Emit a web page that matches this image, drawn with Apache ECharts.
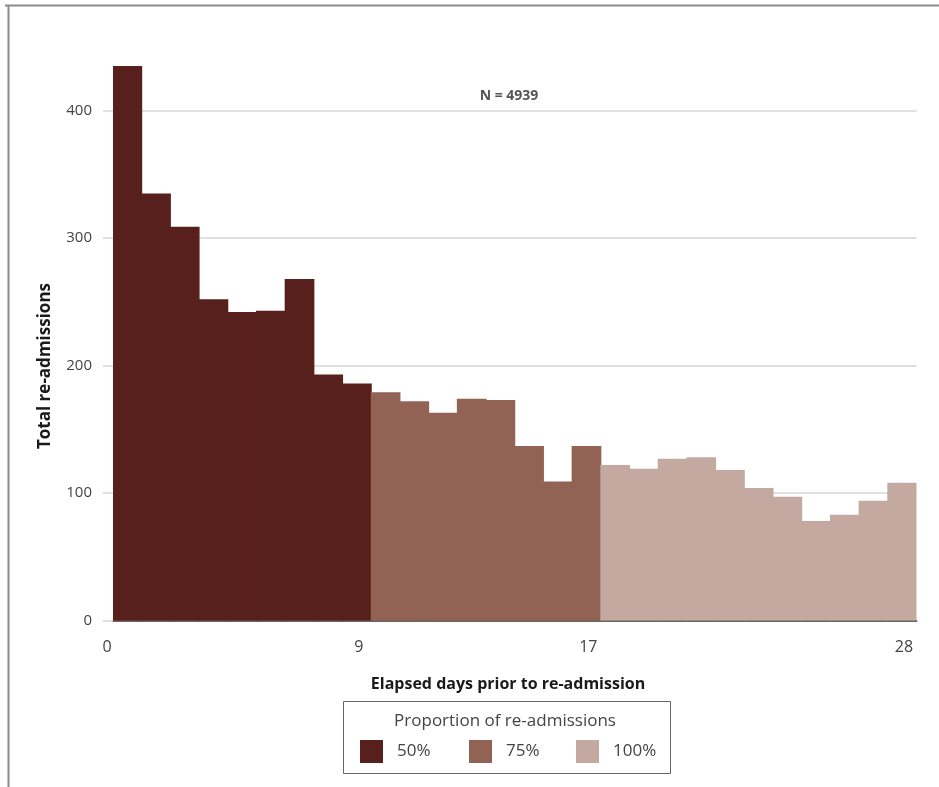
<!DOCTYPE html>
<html>
<head>
<meta charset="utf-8">
<script src="https://cdn.jsdelivr.net/npm/echarts@6/dist/echarts.min.js"></script>
<style>
html,body{margin:0;padding:0;background:#fff;}
#main{width:939px;height:787px;}
</style>
</head>
<body>
<div id="main"></div>
<script>
// Days 1..28 (bar for each elapsed day)
const days = ['1','2','3','4','5','6','7','8','9','10','11','12','13','14','15','16','17','18','19','20','21','22','23','24','25','26','27','28'];
// Total re-admissions per day, grouped by cumulative proportion
const values50 = [435, 335, 309, 252, 242, 243, 268, 193, 186];
const values75 = [179, 172, 163, 174, 173, 137, 109, 137];
const values100 = [122, 119, 127, 128, 118, 104, 97, 78, 83, 94, 108];
const seriesNames = ['50%', '75%', '100%'];
const seriesColors = ['#58201d', '#926355', '#c4a9a0'];
const xTickValues = [0, 9, 17, 28];
const yTicks = [0, 100, 200, 300, 400];
const totalN = 'N = 4939';
const xTitle = 'Elapsed days prior to re-admission';
const yTitle = 'Total re-admissions';
const legendTitle = 'Proportion of re-admissions';

const n50 = values50.length, n75 = values75.length;
function place(vals, start) {
  return days.map((d, i) => (i >= start && i < start + vals.length) ? vals[i - start] : '-');
}
const seriesData = [place(values50, 0), place(values75, n50), place(values100, n50 + n75)];

const chart = echarts.init(document.getElementById('main'), null, {renderer: 'canvas'});
const font = '"Open Sans", "Noto Sans", sans-serif';
const legendLefts = [360, 469, 576];
const gridLeft = 113, gridRight = 22.5;
const band = (939 - gridLeft - gridRight) / days.length;

const option = {
  backgroundColor: '#fff',
  animation: false,
  grid: {left: gridLeft, right: gridRight, top: 59.7, bottom: 166.5, containLabel: false},
  xAxis: [{
    type: 'category',
    data: days,
    boundaryGap: true,
    axisLine: {show: true, lineStyle: {color: '#6b6262', width: 2}},
    axisTick: {show: false},
    axisLabel: {show: false}
  }, {
    type: 'value',
    position: 'bottom',
    min: 0,
    max: 28,
    axisLine: {show: false},
    axisTick: {show: false},
    splitLine: {show: false},
    axisLabel: {
      customValues: xTickValues,
      margin: 19,
      fontFamily: font,
      fontSize: 16,
      color: '#444',
      formatter: v => v === 0 ? '{a|' + v + '}' : '{b|' + v + '}',
      rich: {
        a: {fontFamily: font, fontSize: 16, color: '#444', padding: [0, 12, 0, 0]},
        b: {fontFamily: font, fontSize: 16, color: '#444', padding: [0, 25, 0, 0]}
      }
    }
  }],
  yAxis: {
    type: 'value',
    min: 0,
    max: 440,
    interval: 100,
    axisLine: {show: false},
    axisTick: {show: true, customValues: yTicks, length: 10, lineStyle: {color: '#d6d6d6', width: 1.5}},
    axisLabel: {
      customValues: yTicks,
      margin: 21,
      fontFamily: font,
      fontSize: 15,
      color: '#444'
    },
    splitLine: {show: true, lineStyle: {color: ['#d6d6d6', '#d6d6d6', '#d6d6d6', '#d6d6d6', '#d6d6d6', 'rgba(0,0,0,0)'], width: 1.5}}
  },
  legend: seriesNames.map((n, i) => ({
    left: legendLefts[i],
    top: 740,
    padding: 0,
    itemWidth: 23,
    itemHeight: 23,
    icon: 'rect',
    data: [n],
    formatter: name => '{t|' + name + '}',
    textStyle: {
      fontFamily: font, fontSize: 17, color: '#444',
      rich: {t: {fontFamily: font, fontSize: 17, color: '#444', padding: [0, 0, 0, 9]}}
    }
  })),
  graphic: [
    {type: 'line', shape: {x1: 5, y1: 5.5, x2: 939, y2: 5.5}, style: {stroke: '#8a8a8a', lineWidth: 2}},
    {type: 'line', shape: {x1: 8.5, y1: 5, x2: 8.5, y2: 787}, style: {stroke: '#8a8a8a', lineWidth: 2}},
    {type: 'rect', shape: {x: 343.5, y: 701.5, width: 327, height: 72}, style: {fill: 'none', stroke: '#666', lineWidth: 1}},
    {type: 'text', x: 505, y: 721, style: {text: legendTitle, fontFamily: font, fontSize: 17, fill: '#444', align: 'center', verticalAlign: 'middle'}},
    {type: 'text', x: 509, y: 96, style: {text: totalN, fontFamily: font, fontSize: 14, fontWeight: 'bold', fill: '#555', align: 'center', verticalAlign: 'middle'}},
    {type: 'text', x: 508, y: 684, style: {text: xTitle, fontFamily: font, fontSize: 16, fontWeight: 'bold', fill: '#1a1a1a', align: 'center', verticalAlign: 'middle'}},
    {type: 'text', x: 45, y: 366, rotation: Math.PI / 2, style: {text: yTitle, fontFamily: font, fontSize: 17, fontWeight: 'bold', fill: '#1a1a1a', align: 'center', verticalAlign: 'middle'}}
  ],
  series: seriesNames.map((name, i) => ({
    name: name,
    type: 'bar',
    stack: 'total',
    barWidth: band + 1,
    xAxisIndex: 0,
    itemStyle: {color: seriesColors[i]},
    data: seriesData[i]
  }))
};
chart.setOption(option);
</script>
</body>
</html>
